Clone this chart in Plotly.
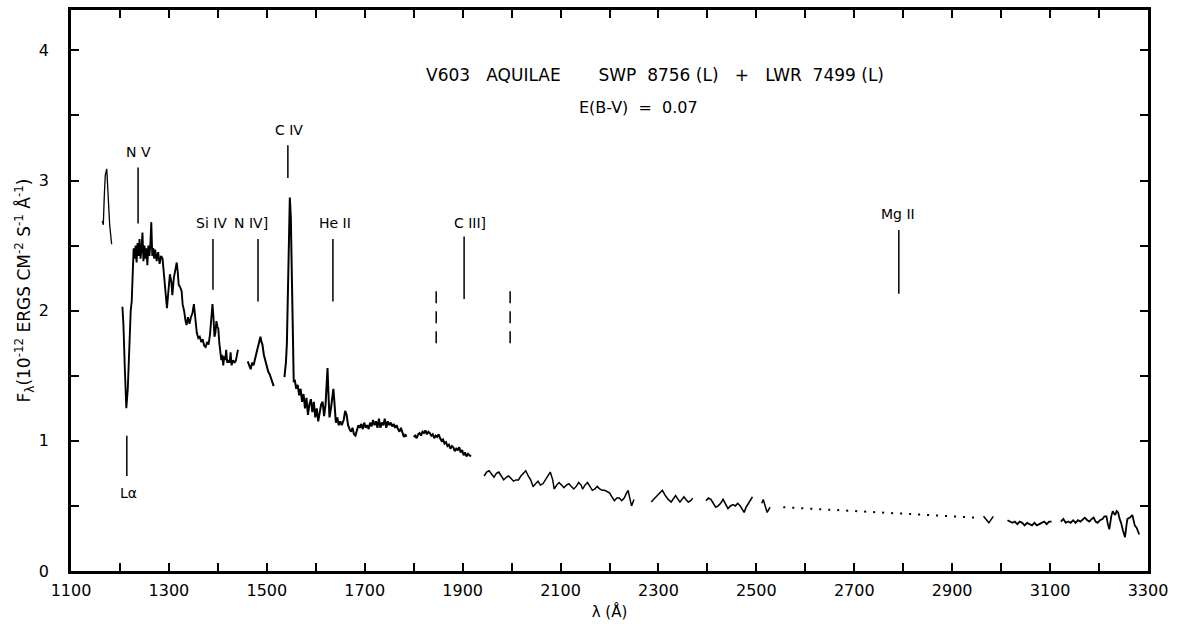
import plotly.graph_objects as go

# ---------------- data ----------------
# SWP segments (short wavelength camera)
swp1_w = [1164, 1166, 1168, 1170, 1173, 1176, 1179, 1183]
swp1_f = [2.69, 2.66, 2.88, 3.04, 3.09, 2.85, 2.66, 2.51]

swp2_w = [1205, 1207, 1210, 1213, 1216, 1219, 1222, 1224, 1226, 1228, 1230, 1232, 1234, 1236,
          1238, 1240, 1242, 1244, 1246, 1248, 1250, 1252, 1254, 1256, 1258, 1260, 1262, 1264,
          1266, 1268, 1270, 1272, 1275, 1278, 1281, 1284, 1287, 1290, 1293, 1296, 1299, 1302,
          1305, 1307, 1310, 1313, 1316, 1318, 1320, 1323, 1326, 1328, 1331, 1334, 1336, 1339,
          1342, 1345, 1348, 1351, 1353, 1355, 1357, 1360, 1363, 1366, 1369, 1372, 1375, 1378,
          1381, 1384, 1387, 1389, 1391, 1393, 1395, 1397, 1399, 1401, 1403, 1405, 1407, 1409,
          1411, 1413, 1415, 1417, 1419, 1422, 1424, 1426, 1428, 1431, 1434, 1437, 1439, 1441]
swp2_f = [2.03, 1.90, 1.55, 1.25, 1.40, 1.75, 2.00, 2.07, 2.30, 2.48, 2.40, 2.50, 2.37, 2.52,
          2.42, 2.55, 2.40, 2.47, 2.60, 2.38, 2.50, 2.40, 2.48, 2.35, 2.50, 2.42, 2.50, 2.68,
          2.42, 2.48, 2.40, 2.47, 2.38, 2.45, 2.36, 2.42, 2.40, 2.25, 2.10, 2.02, 2.15, 2.28,
          2.22, 2.12, 2.25, 2.32, 2.37, 2.30, 2.20, 2.18, 2.15, 2.05, 2.00, 1.92, 1.89, 1.95,
          1.90, 1.95, 1.98, 2.05, 1.98, 1.90, 1.83, 1.79, 1.80, 1.76, 1.78, 1.73, 1.72, 1.76,
          1.74, 1.82, 1.95, 2.05, 1.95, 1.80, 1.83, 1.92, 1.88, 1.86, 1.75, 1.68, 1.62, 1.66,
          1.58, 1.65, 1.62, 1.70, 1.60, 1.62, 1.60, 1.68, 1.58, 1.62, 1.60, 1.62, 1.68, 1.70]

swp3_w = [1461, 1464, 1467, 1470, 1473, 1476, 1479, 1482, 1485, 1487, 1489, 1491, 1494, 1497,
          1500, 1503, 1506, 1509, 1511, 1514]
swp3_f = [1.61, 1.58, 1.55, 1.60, 1.58, 1.63, 1.68, 1.72, 1.77, 1.80, 1.76, 1.74, 1.66, 1.61,
          1.58, 1.53, 1.51, 1.48, 1.45, 1.42]

swp4_w = [1536, 1539, 1541, 1543, 1545, 1547, 1549, 1551, 1553, 1555, 1557, 1560, 1563, 1566,
          1569, 1572, 1575, 1578, 1581, 1584, 1587, 1590, 1593, 1596, 1599, 1602, 1605, 1608,
          1611, 1614, 1617, 1620, 1622, 1624, 1626, 1628, 1631, 1634, 1636, 1638, 1641, 1644,
          1647, 1650, 1653, 1657, 1660, 1663, 1666, 1669, 1672, 1675, 1678, 1681, 1684, 1687,
          1690, 1693, 1696, 1699, 1702, 1705, 1708, 1711, 1714, 1717, 1720, 1723, 1726, 1729,
          1732, 1735, 1738, 1741, 1744, 1747, 1750, 1753, 1756, 1759, 1762, 1765, 1768, 1771,
          1774, 1777, 1780, 1783, 1785]
swp4_f = [1.49, 1.60, 1.75, 2.20, 2.60, 2.87, 2.72, 2.20, 1.70, 1.45, 1.47, 1.40, 1.43, 1.35,
          1.40, 1.30, 1.36, 1.25, 1.33, 1.20, 1.28, 1.32, 1.22, 1.30, 1.18, 1.25, 1.15, 1.22,
          1.28, 1.30, 1.19, 1.28, 1.40, 1.56, 1.35, 1.18, 1.25, 1.35, 1.40, 1.30, 1.14, 1.18,
          1.12, 1.15, 1.12, 1.16, 1.23, 1.20, 1.12, 1.09, 1.07, 1.10, 1.05, 1.04, 1.08, 1.12,
          1.10, 1.13, 1.09, 1.14, 1.10, 1.12, 1.09, 1.14, 1.11, 1.16, 1.12, 1.15, 1.10, 1.17,
          1.10, 1.14, 1.12, 1.17, 1.10, 1.15, 1.12, 1.14, 1.11, 1.13, 1.10, 1.12, 1.09, 1.07,
          1.10, 1.06, 1.03, 1.05, 1.03]

swp5_w = [1800, 1803, 1806, 1809, 1812, 1815, 1818, 1821, 1824, 1827, 1830, 1833, 1836, 1839,
          1842, 1845, 1848, 1851, 1854, 1857, 1860, 1863, 1866, 1869, 1872, 1875, 1878, 1881,
          1884, 1887, 1890, 1893, 1896, 1899, 1902, 1905, 1908, 1911, 1914, 1917]
swp5_f = [1.03, 1.04, 1.02, 1.05, 1.06, 1.04, 1.07, 1.06, 1.08, 1.05, 1.07, 1.06, 1.04, 1.05,
          1.02, 1.04, 1.03, 1.05, 1.02, 1.00, 1.01, 0.98, 0.99, 0.96, 0.97, 0.94, 0.96, 0.95,
          0.92, 0.94, 0.93, 0.95, 0.91, 0.93, 0.89, 0.91, 0.88, 0.90, 0.89, 0.88]

# LWR segments (long wavelength camera)
lwr1_w = [1944, 1949, 1954, 1959, 1964, 1969, 1974, 1979, 1984, 1989, 1994, 1999, 2004, 2009,
          2014, 2019, 2024, 2029, 2034, 2039, 2044, 2049, 2054, 2059, 2064, 2069, 2074, 2079,
          2084, 2087, 2092, 2097, 2102, 2107, 2112, 2117, 2122, 2127, 2132, 2137, 2142, 2145,
          2150, 2155, 2160, 2165, 2170, 2175, 2180, 2185, 2190, 2195, 2200, 2205, 2210, 2215,
          2220, 2225, 2230, 2235, 2238, 2242, 2245, 2250]
lwr1_f = [0.73, 0.76, 0.77, 0.74, 0.72, 0.75, 0.76, 0.73, 0.70, 0.72, 0.73, 0.71, 0.69, 0.70,
          0.70, 0.73, 0.75, 0.77, 0.73, 0.70, 0.65, 0.67, 0.69, 0.66, 0.67, 0.70, 0.73, 0.76,
          0.70, 0.63, 0.66, 0.68, 0.66, 0.64, 0.66, 0.67, 0.65, 0.63, 0.65, 0.68, 0.66, 0.63,
          0.66, 0.68, 0.65, 0.62, 0.63, 0.65, 0.63, 0.62, 0.62, 0.61, 0.60, 0.57, 0.54, 0.56,
          0.56, 0.54, 0.56, 0.60, 0.62, 0.55, 0.50, 0.55]

lwr2_w = [2285, 2290, 2296, 2302, 2308, 2314, 2320, 2326, 2330, 2335, 2340, 2344, 2348, 2352,
          2356, 2361, 2366, 2370]
lwr2_f = [0.53, 0.55, 0.58, 0.60, 0.62, 0.58, 0.55, 0.53, 0.55, 0.58, 0.55, 0.53, 0.55, 0.57,
          0.55, 0.53, 0.54, 0.56]

lwr3_w = [2397, 2402, 2407, 2412, 2417, 2422, 2427, 2432, 2437, 2442, 2447, 2452, 2457, 2462,
          2467, 2472, 2475, 2479, 2482, 2486, 2489, 2492]
lwr3_f = [0.54, 0.56, 0.55, 0.52, 0.49, 0.50, 0.52, 0.55, 0.52, 0.48, 0.50, 0.51, 0.50, 0.52,
          0.50, 0.47, 0.45, 0.49, 0.51, 0.53, 0.55, 0.57]

lwr4_w = [2511, 2514, 2518, 2522, 2525, 2528]
lwr4_f = [0.52, 0.55, 0.50, 0.45, 0.47, 0.49]

gap_w = [2555, 2950]          # dotted interpolation across the gap
gap_f = [0.49, 0.41]

lwr5_w = [2964, 2975, 2984]
lwr5_f = [0.42, 0.37, 0.42]

lwr6_w = [3013, 3018, 3023, 3028, 3033, 3038, 3043, 3048, 3053, 3058, 3063, 3068, 3073, 3078,
          3083, 3088, 3093, 3098, 3103]
lwr6_f = [0.39, 0.38, 0.37, 0.38, 0.36, 0.38, 0.37, 0.35, 0.37, 0.36, 0.35, 0.37, 0.35, 0.36,
          0.37, 0.38, 0.36, 0.38, 0.38]

lwr7_w = [3122, 3127, 3132, 3137, 3142, 3147, 3152, 3157, 3162, 3167, 3171, 3176, 3180, 3185,
          3189, 3193, 3197, 3202, 3207, 3211, 3215, 3218, 3221, 3225, 3228, 3231, 3233, 3236,
          3239, 3242, 3245, 3249, 3253, 3256, 3258, 3263, 3268, 3273, 3277, 3282]
lwr7_f = [0.38, 0.40, 0.37, 0.38, 0.37, 0.39, 0.37, 0.39, 0.38, 0.40, 0.41, 0.39, 0.38, 0.40,
          0.41, 0.38, 0.37, 0.39, 0.40, 0.42, 0.42, 0.36, 0.32, 0.42, 0.46, 0.44, 0.43, 0.46,
          0.45, 0.40, 0.37, 0.31, 0.26, 0.35, 0.40, 0.41, 0.43, 0.35, 0.33, 0.28]

# line identifications
id_labels = ["Lα", "N V", "Si IV", "N IV]", "C IV", "He II", "C III]", "Mg II"]
id_wave   = [1214, 1237, 1390, 1482, 1543, 1635, 1903, 2791]
id_top    = [1.04, 3.10, 2.55, 2.55, 3.27, 2.55, 2.57, 2.62]
id_bot    = [0.73, 2.67, 2.16, 2.07, 3.02, 2.07, 2.09, 2.13]
id_label_x = [1218, 1237, 1386, 1468, 1546, 1640, 1915, 2789]
id_label_y = [0.60, 3.22, 2.67, 2.67, 3.39, 2.67, 2.67, 2.74]

dash_wave = [1846, 1997]
dash_top = [2.16, 2.16]
dash_bot = [1.75, 1.75]

x_ticks = list(range(1100, 3301, 100))
x_tick_text = [str(v) if (v - 1100) % 200 == 0 else "" for v in x_ticks]
y_ticks = [0, 0.5, 1, 1.5, 2, 2.5, 3, 3.5, 4]
y_tick_text = ["0", "", "1", "", "2", "", "3", "", "4"]

title_line1 = "V603   AQUILAE       SWP  8756 (L)   +   LWR  7499 (L)"
title_line2 = "E(B-V)  =  0.07"

# ---------------- figure ----------------
FONT = "DejaVu Sans"
fig = go.Figure()

swp = [(swp1_w, swp1_f, 1.3), (swp2_w, swp2_f, 1.9), (swp3_w, swp3_f, 2.0),
       (swp4_w, swp4_f, 2.0), (swp5_w, swp5_f, 2.0)]
lwr = [(lwr1_w, lwr1_f, 1.5), (lwr2_w, lwr2_f, 1.5), (lwr3_w, lwr3_f, 1.6),
       (lwr4_w, lwr4_f, 1.5), (lwr5_w, lwr5_f, 1.5), (lwr6_w, lwr6_f, 1.8),
       (lwr7_w, lwr7_f, 1.8)]
for w, f, lw in swp + lwr:
    fig.add_trace(go.Scatter(x=w, y=f, mode="lines",
                             line=dict(color="black", width=lw), hoverinfo="skip"))

fig.add_trace(go.Scatter(x=gap_w, y=gap_f, mode="lines",
                         line=dict(color="black", width=2, dash="2px,7px"), hoverinfo="skip"))

for w, t, b in zip(id_wave, id_top, id_bot):
    fig.add_trace(go.Scatter(x=[w, w], y=[b, t], mode="lines",
                             line=dict(color="black", width=1.5), hoverinfo="skip"))
for w, t, b in zip(dash_wave, dash_top, dash_bot):
    fig.add_trace(go.Scatter(x=[w, w], y=[b, t], mode="lines",
                             line=dict(color="black", width=1.5, dash="12px,8px"), hoverinfo="skip"))

for lab, lx, ly in zip(id_labels, id_label_x, id_label_y):
    fig.add_annotation(x=lx, y=ly, text=lab, showarrow=False,
                       font=dict(family=FONT, size=14, color="black"))

fig.add_annotation(x=0.542, y=3.81, xref="paper", yref="y", text=title_line1, showarrow=False,
                   font=dict(family=FONT, size=17, color="black"))
fig.add_annotation(x=0.527, y=3.56, xref="paper", yref="y", text=title_line2, showarrow=False,
                   font=dict(family=FONT, size=16, color="black"))

axis_common = dict(showline=True, linecolor="black", linewidth=2.5, mirror="ticks",
                   ticks="inside", ticklen=8, tickwidth=1.5, tickcolor="black",
                   showgrid=False, zeroline=False,
                   tickfont=dict(family=FONT, size=16, color="black"))

fig.update_xaxes(range=[1100, 3300], tickmode="array", tickvals=x_ticks, ticktext=x_tick_text,
                 ticklabelstandoff=3,
                 title=dict(text="λ (Å)", font=dict(family=FONT, size=15, color="black"), standoff=8),
                 **axis_common)
fig.update_yaxes(range=[0, 4.31], tickmode="array", tickvals=y_ticks, ticktext=y_tick_text,
                 ticklabelstandoff=16,
                 title=dict(text="F<sub>λ</sub>(10<sup>-12</sup> ERGS CM<sup>-2</sup> S<sup>-1</sup> Å<sup>-1</sup>)",
                            font=dict(family=FONT, size=17, color="black"), standoff=4),
                 **axis_common)

fig.update_layout(width=1185, height=636, showlegend=False,
                  paper_bgcolor="white", plot_bgcolor="white",
                  margin=dict(l=71, r=37, t=7, b=65))

fig.write_html("out.html")
